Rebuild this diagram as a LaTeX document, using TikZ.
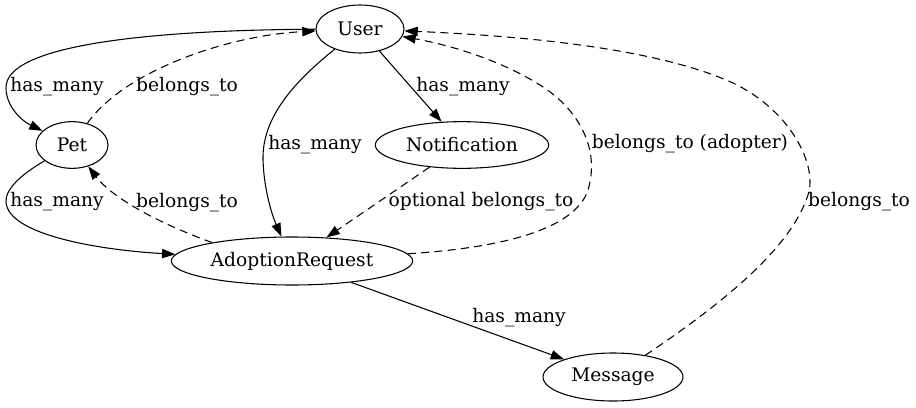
\documentclass[tikz,border=0pt]{standalone}
\usepackage{fontspec}
\setmainfont{DejaVu Serif}
\usetikzlibrary{shapes.geometric,arrows.meta}
\begin{document}
\begin{tikzpicture}[x=0.75pt,y=-0.75pt,
  ent/.style={draw,ellipse,inner sep=0pt,line width=0.8pt,font=\fontsize{14}{16}\selectfont},
  lbl/.style={inner sep=0pt,font=\fontsize{14}{16}\selectfont},
  rel/.style={line width=0.8pt,-{Triangle[length=10pt,width=7pt]}},
  dsh/.style={rel,dash pattern=on 6pt off 4pt}]
\useasboundingbox (0,0) rectangle (916,407);
% entities
\node[ent,minimum width=66pt,minimum height=36pt] (user) at (360,29) {User};
\node[ent,minimum width=54pt,minimum height=35pt] (pet) at (72,145) {Pet};
\node[ent,minimum width=130pt,minimum height=35pt] (notif) at (462,145) {Notification};
\node[ent,minimum width=181pt,minimum height=36pt] (adopt) at (292,261) {AdoptionRequest};
\node[ent,minimum width=105pt,minimum height=36pt] (msg) at (613,377) {Message};
% connectors
\draw[rel] (user) .. controls (150,30) and (5,45) .. (6,88) .. controls (6,105) and (20,120) .. (pet);
\draw[dsh] (pet) .. controls (125,70) and (230,35) .. (user);
\draw[rel] (user) .. controls (290,85) and (262,120) .. (263,160) .. controls (264,190) and (272,215) .. (adopt);
\draw[rel] (user) -- (notif);
\draw[dsh] (notif) -- (adopt);
\draw[rel] (pet) .. controls (20,175) and (5,190) .. (6,202) .. controls (8,235) and (100,250) .. (adopt);
\draw[dsh] (adopt.167) .. controls (150,220) and (110,195) .. (pet);
\draw[dsh] (adopt) .. controls (500,248) and (575,230) .. (588,190) .. controls (600,150) and (580,110) .. (540,85) .. controls (500,60) and (450,45) .. (user);
\draw[dsh] (msg) .. controls (720,305) and (790,250) .. (808,195) .. controls (818,165) and (790,110) .. (733,83) .. controls (650,45) and (500,35) .. (user);
\draw[rel] (adopt) -- (msg);
% labels
\node[lbl] (l1) at (57,87) {has\_many};
\node[lbl] (l2) at (187,87) {belongs\_to};
\node[lbl] (l3) at (315,145) {has\_many};
\node[lbl] (l4) at (463,87) {has\_many};
\node[lbl] (l5) at (690,144) {belongs\_to (adopter)};
\node[lbl] (l6) at (57,202) {has\_many};
\node[lbl] (l7) at (187,203) {belongs\_to};
\node[lbl] (l8) at (481,202) {optional belongs\_to};
\node[lbl] (l9) at (859,202) {belongs\_to};
\node[lbl] (l10) at (519,318) {has\_many};
\end{tikzpicture}
\end{document}
